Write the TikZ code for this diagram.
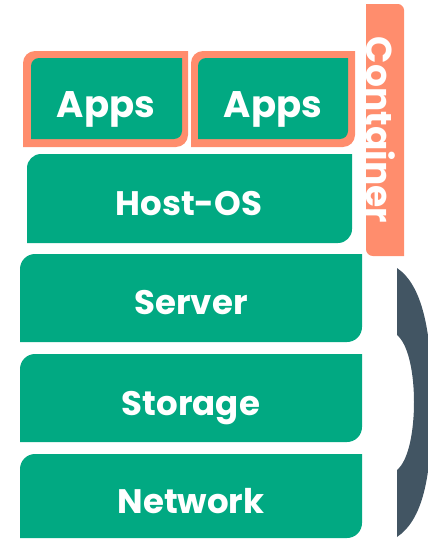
\documentclass[tikz,border=0pt]{standalone}
\usepackage{fontspec}
\setmainfont{Poppins}
\definecolor{hpegreen}{HTML}{01A982}
\definecolor{hpeorange}{HTML}{FF8D6D}
\definecolor{hpeslate}{HTML}{425563}

% filled box, rounded top-left and bottom-right: colour, left, top, right, bottom, radius
\newcommand{\tabbox}[6]{%
  \fill[#1] (#2,#5) -- (#2,#3+#6) .. controls (#2,#3+0.45*#6) and (#2+0.45*#6,#3) .. (#2+#6,#3)
    -- (#4,#3) -- (#4,#5-#6) .. controls (#4,#5-0.45*#6) and (#4-0.45*#6,#5) .. (#4-#6,#5) -- cycle;}

\tikzset{
  lbl/.style={text=white, font=\fontsize{34}{34}\selectfont\bfseries, anchor=base, inner sep=0pt},
}

\begin{document}
\begin{tikzpicture}[x=1pt,y=-1pt]
    \useasboundingbox (0,0) rectangle (428,541);
    % container bar
    \fill[hpeorange] (366,4) -- (398,4) .. controls (401,4) and (404,7) .. (404,10) -- (404,256)
        -- (373,256) .. controls (369,256) and (366,253) .. (366,249) -- cycle;
    \node[lbl, font=\fontsize{36}{36}\selectfont\bfseries, rotate=-90, anchor=center] (container) at (381,130) {Container};
    % apps
    \tabbox{hpeorange}{23}{51}{188}{147}{12}
    \tabbox{hpegreen}{31}{58}{182}{139}{8}
    \tabbox{hpeorange}{191}{51}{355}{147}{12}
    \tabbox{hpegreen}{198}{58}{348}{139}{8}
    \node[lbl, font=\fontsize{37}{37}\selectfont\bfseries] (apps1) at (106,117) {Apps};
    \node[lbl, font=\fontsize{37}{37}\selectfont\bfseries] (apps2) at (273,117) {Apps};
    % stack
    \tabbox{hpegreen}{27}{154}{352}{243}{14}
    \node[lbl] (hostos) at (189,215) {Host-OS};
    \tabbox{hpegreen}{20}{254}{362}{342}{15}
    \node[lbl] (server) at (191,314) {Server};
    \tabbox{hpegreen}{20}{354}{362}{442}{15}
    \node[lbl] (storage) at (191,415) {Storage};
    \tabbox{hpegreen}{20}{454}{362}{538}{15}
    \node[lbl] (network) at (191,513) {Network};
    % bracket
    \begin{scope}
        \clip (0,0) rectangle (428,541);
        \fill[hpeslate] (397,268) -- (397,335) .. controls (409,345) and (414,375) .. (414,402)
            .. controls (414,430) and (409,460) .. (397,470) -- (397,537)
            .. controls (422,520) and (432,480) .. (432,402)
            .. controls (432,330) and (422,285) .. (397,268) -- cycle;
    \end{scope}
\end{tikzpicture}
\end{document}
